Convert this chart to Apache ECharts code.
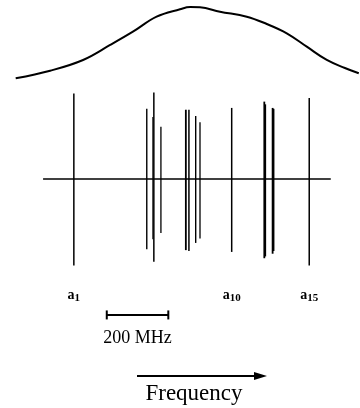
<!DOCTYPE html>
<html>
<head>
<meta charset="utf-8">
<script src="https://cdn.jsdelivr.net/npm/echarts@6/dist/echarts.min.js"></script>
<style>
html,body{margin:0;padding:0;background:#fff;}
#chart{width:360px;height:408px;}
</style>
</head>
<body>
<div id="chart"></div>
<script>
// Spectral lines: frequency offset (MHz) from a1, upper and lower relative intensity
const lineFreq  = [0, 237, 257, 260, 283, 364, 374, 396, 410, 513, 619, 622, 646, 649, 765];
const upperInt  = [0.95, 0.78, 0.69, 0.96, 0.58, 0.77, 0.77, 0.70, 0.63, 0.79, 0.86, 0.83, 0.79, 0.78, 0.90];
const lowerInt  = [0.96, 0.78, 0.67, 0.92, 0.60, 0.79, 0.80, 0.71, 0.66, 0.81, 0.88, 0.86, 0.83, 0.80, 0.96];
const lineWidthPx = [1.5, 1.4, 1.2, 1.5, 1.3, 1.8, 1.5, 1.4, 1.3, 1.5, 1.8, 1.8, 1.8, 1.8, 1.5];
// Labelled lines (1-based index a_n)
const labelIndex = [1, 10, 15];
// Envelope profile: frequency (MHz), relative intensity
const envFreq = [-189, -77, 30, 118, 192, 269, 345, 378, 410, 475, 562, 627, 692, 757, 822, 881, 926];
const envInt  = [0.086, 0.183, 0.321, 0.513, 0.683, 0.876, 0.971, 1.0, 0.996, 0.94, 0.876, 0.782, 0.663, 0.491, 0.321, 0.218, 0.15];
// Baseline extent (MHz)
const baselineRange = [-100, 835];
// Scale bar (MHz)
const scaleBar = [107, 307];
const scaleLabel = '200 MHz';
const axisTitle = 'Frequency';

const X_MIN = -240, X_MAX = 930;
const serif = '"Liberation Serif", "DejaVu Serif", serif';

const chart = echarts.init(document.getElementById('chart'), null, {renderer: 'canvas'});

const linesData = lineFreq.map((f, i) => [f, upperInt[i], lowerInt[i], lineWidthPx[i]]);
const labelData = labelIndex.map(n => [lineFreq[n - 1], String(n)]);

const option = {
  animation: false,
  backgroundColor: '#fff',
  grid: [
    {left: 0, right: 0, top: 7, height: 78},
    {left: 0, right: 0, top: 0, bottom: 0}
  ],
  xAxis: [
    {type: 'value', gridIndex: 0, min: X_MIN, max: X_MAX, show: false},
    {type: 'value', gridIndex: 1, min: X_MIN, max: X_MAX, show: false}
  ],
  yAxis: [
    {type: 'value', gridIndex: 0, min: 0, max: 1, show: false},
    {type: 'value', gridIndex: 1, min: -2.544, max: 1.989, show: false}
  ],
  series: [
    {
      type: 'line', xAxisIndex: 0, yAxisIndex: 0,
      data: envFreq.map((f, i) => [f, envInt[i]]),
      smooth: 0.4, symbol: 'none',
      lineStyle: {color: '#000', width: 2},
      clip: false
    },
    {
      type: 'line', xAxisIndex: 1, yAxisIndex: 1,
      data: baselineRange.map(f => [f, 0]),
      symbol: 'none',
      lineStyle: {color: '#000', width: 1.6}
    },
    {
      type: 'custom', xAxisIndex: 1, yAxisIndex: 1,
      data: linesData,
      encode: {x: 0, y: [1, 2]},
      renderItem: function (params, api) {
        const x = api.value(0);
        const p1 = api.coord([x, api.value(1)]);
        const p2 = api.coord([x, -api.value(2)]);
        return {
          type: 'line',
          shape: {x1: p1[0], y1: p1[1], x2: p2[0], y2: p2[1]},
          style: {stroke: '#000', lineWidth: api.value(3)}
        };
      }
    },
    {
      type: 'custom', xAxisIndex: 1, yAxisIndex: 1,
      data: labelData,
      encode: {x: 0},
      renderItem: function (params, api) {
        const p = api.coord([api.value(0), -1.31]);
        return {
          type: 'text',
          x: p[0], y: p[1],
          style: {
            text: '{a|a}{s|' + labelData[params.dataIndex][1] + '}',
            align: 'center', verticalAlign: 'middle',
            rich: {
              a: {fontSize: 14, fontWeight: 'bold', fontFamily: serif, fill: '#000', lineHeight: 18, verticalAlign: 'top'},
              s: {fontSize: 11, fontWeight: 'bold', fontFamily: serif, fill: '#000', lineHeight: 18, verticalAlign: 'top', padding: [5, 0, 0, 0]}
            }
          }
        };
      }
    },
    {
      type: 'custom', xAxisIndex: 1, yAxisIndex: 1,
      data: [scaleBar],
      encode: {x: [0, 1]},
      renderItem: function (params, api) {
        const y = -1.51;
        const a = api.coord([api.value(0), y]);
        const b = api.coord([api.value(1), y]);
        const t = api.coord([(api.value(0) + api.value(1)) / 2, -1.77]);
        return {
          type: 'group',
          children: [
            {type: 'line', shape: {x1: a[0], y1: a[1], x2: b[0], y2: b[1]}, style: {stroke: '#000', lineWidth: 2}},
            {type: 'line', shape: {x1: a[0], y1: a[1] - 4.5, x2: a[0], y2: a[1] + 4.5}, style: {stroke: '#000', lineWidth: 2}},
            {type: 'line', shape: {x1: b[0], y1: b[1] - 4.5, x2: b[0], y2: b[1] + 4.5}, style: {stroke: '#000', lineWidth: 2}},
            {type: 'text', x: t[0], y: t[1], style: {text: scaleLabel, font: '18px ' + serif, fill: '#000', align: 'center', verticalAlign: 'middle'}}
          ]
        };
      }
    }
  ],
  graphic: [
    {type: 'line', shape: {x1: 137, y1: 376, x2: 256, y2: 376}, style: {stroke: '#000', lineWidth: 2}},
    {type: 'polygon', shape: {points: [[254, 372], [267, 376], [254, 380]]}, style: {fill: '#000'}},
    {type: 'text', x: 194, y: 394, style: {text: axisTitle, font: '23px ' + serif, fill: '#000', align: 'center', verticalAlign: 'middle'}}
  ]
};
chart.setOption(option);
</script>
</body>
</html>
